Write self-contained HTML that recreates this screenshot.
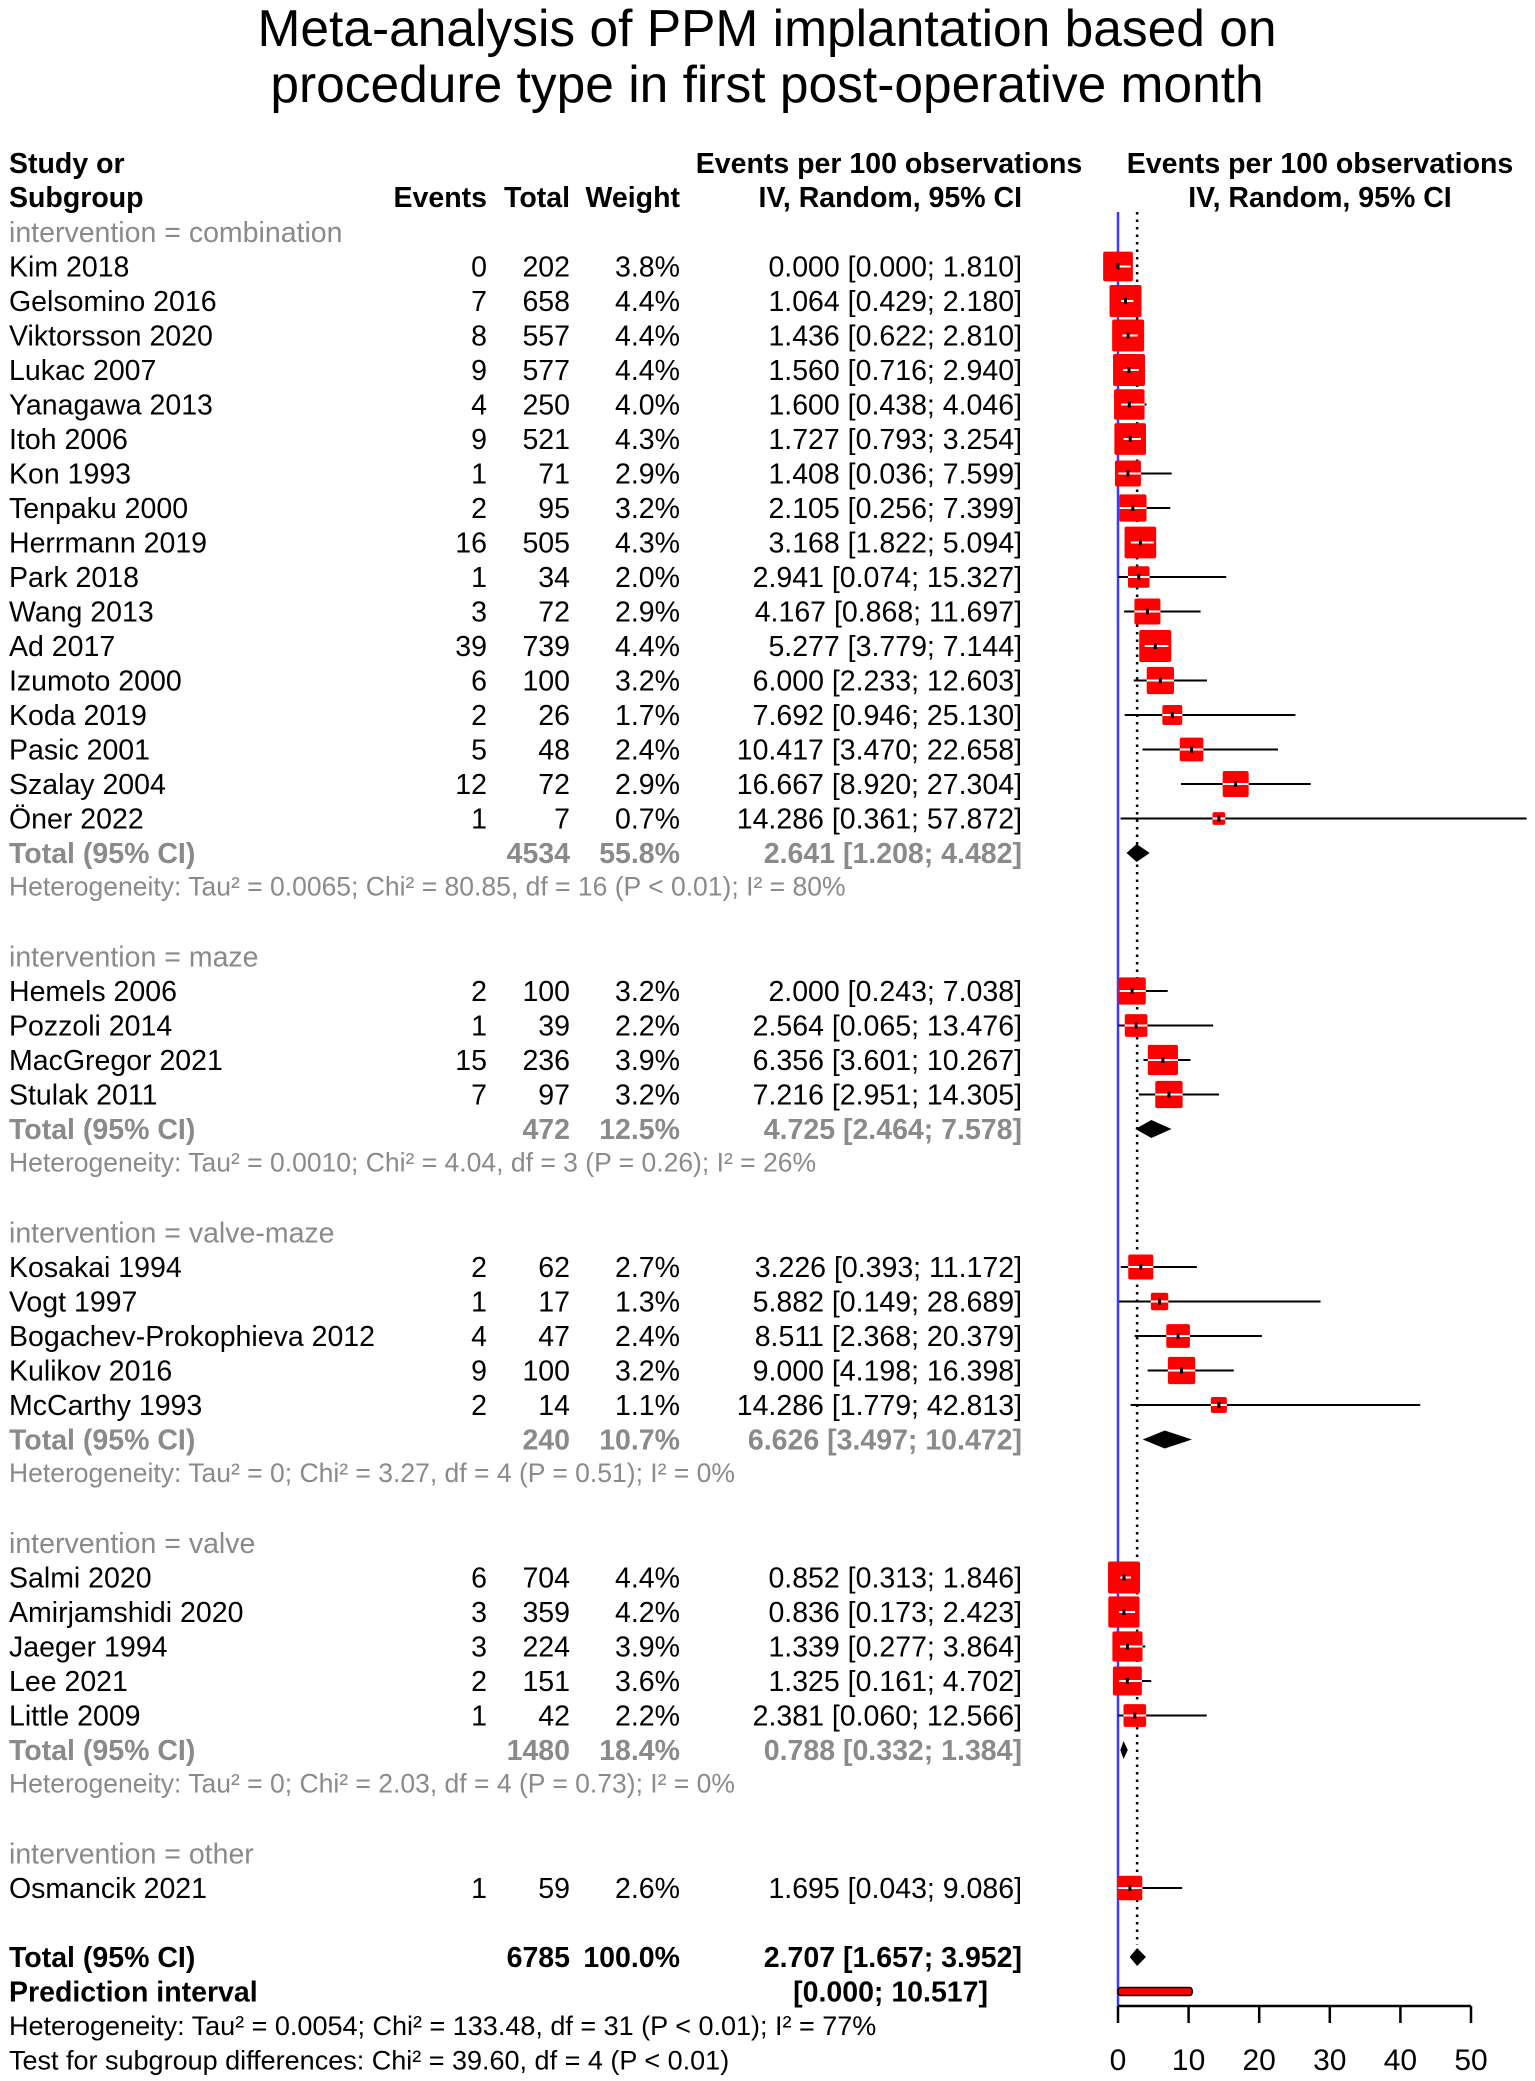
<!DOCTYPE html>
<html><head><meta charset="utf-8"><style>
html,body{margin:0;padding:0;background:#fff;}
svg{display:block;font-family:"Liberation Sans",Arial,sans-serif;}
</style></head><body>
<svg id="chart" width="1535" height="2081" viewBox="0 0 1535 2081" xmlns="http://www.w3.org/2000/svg">
<text x="767" y="46" font-size="51.5" text-anchor="middle">Meta-analysis of PPM implantation based on</text>
<text x="767" y="102" font-size="51.5" text-anchor="middle">procedure type in first post-operative month</text>
<g font-size="28.5" font-weight="bold">
<text x="9" y="173">Study or</text>
<text x="9" y="207">Subgroup</text>
<text x="487" y="207" text-anchor="end">Events</text>
<text x="570" y="207" text-anchor="end">Total</text>
<text x="680" y="207" text-anchor="end">Weight</text>
<text x="889" y="173" text-anchor="middle">Events per 100 observations</text>
<text x="1022" y="207" text-anchor="end">IV, Random, 95% CI</text>
<text x="1320" y="173" text-anchor="middle">Events per 100 observations</text>
<text x="1320" y="207" text-anchor="middle">IV, Random, 95% CI</text>
</g>
<g id="rows"></g>
<g id="plot"></g>
</svg>
<script>
const studyNames=["Kim 2018","Gelsomino 2016","Viktorsson 2020","Lukac 2007","Yanagawa 2013","Itoh 2006","Kon 1993","Tenpaku 2000","Herrmann 2019","Park 2018","Wang 2013","Ad 2017","Izumoto 2000","Koda 2019","Pasic 2001","Szalay 2004","Öner 2022","Hemels 2006","Pozzoli 2014","MacGregor 2021","Stulak 2011","Kosakai 1994","Vogt 1997","Bogachev-Prokophieva 2012","Kulikov 2016","McCarthy 1993","Salmi 2020","Amirjamshidi 2020","Jaeger 1994","Lee 2021","Little 2009","Osmancik 2021"];
const studyGroup=[0,0,0,0,0,0,0,0,0,0,0,0,0,0,0,0,0,1,1,1,1,2,2,2,2,2,3,3,3,3,3,4];
const events=[0,7,8,9,4,9,1,2,16,1,3,39,6,2,5,12,1,2,1,15,7,2,1,4,9,2,6,3,3,2,1,1];
const totals=[202,658,557,577,250,521,71,95,505,34,72,739,100,26,48,72,7,100,39,236,97,62,17,47,100,14,704,359,224,151,42,59];
const weights=[3.8,4.4,4.4,4.4,4.0,4.3,2.9,3.2,4.3,2.0,2.9,4.4,3.2,1.7,2.4,2.9,0.7,3.2,2.2,3.9,3.2,2.7,1.3,2.4,3.2,1.1,4.4,4.2,3.9,3.6,2.2,2.6];
const estimates=[0.000,1.064,1.436,1.560,1.600,1.727,1.408,2.105,3.168,2.941,4.167,5.277,6.000,7.692,10.417,16.667,14.286,2.000,2.564,6.356,7.216,3.226,5.882,8.511,9.000,14.286,0.852,0.836,1.339,1.325,2.381,1.695];
const lowers=[0.000,0.429,0.622,0.716,0.438,0.793,0.036,0.256,1.822,0.074,0.868,3.779,2.233,0.946,3.470,8.920,0.361,0.243,0.065,3.601,2.951,0.393,0.149,2.368,4.198,1.779,0.313,0.173,0.277,0.161,0.060,0.043];
const uppers=[1.810,2.180,2.810,2.940,4.046,3.254,7.599,7.399,5.094,15.327,11.697,7.144,12.603,25.130,22.658,27.304,57.872,7.038,13.476,10.267,14.305,11.172,28.689,20.379,16.398,42.813,1.846,2.423,3.864,4.702,12.566,9.086];
const groupNames=["combination","maze","valve-maze","valve","other"];
const groupTotals=[4534,472,240,1480,null];
const groupWeights=["55.8%","12.5%","10.7%","18.4%",null];
const groupEst=[2.641,4.725,6.626,0.788,null];
const groupLow=[1.208,2.464,3.497,0.332,null];
const groupUp=[4.482,7.578,10.472,1.384,null];
const groupHet=["Heterogeneity: Tau² = 0.0065; Chi² = 80.85, df = 16 (P < 0.01); I² = 80%","Heterogeneity: Tau² = 0.0010; Chi² = 4.04, df = 3 (P = 0.26); I² = 26%","Heterogeneity: Tau² = 0; Chi² = 3.27, df = 4 (P = 0.51); I² = 0%","Heterogeneity: Tau² = 0; Chi² = 2.03, df = 4 (P = 0.73); I² = 0%",null];
const overall={total:6785,weight:"100.0%",est:2.707,low:1.657,up:3.952,piLow:0.000,piUp:10.517};
const xTicks=[0,10,20,30,40,50];

const NS="http://www.w3.org/2000/svg";
const X0=1118,PX=7.06,FS=28.5;
function xs(v){return X0+v*PX;}
function ys(k){return 232+34.5*k;}
const rowsG=document.getElementById('rows'),plotG=document.getElementById('plot');
function mk(tag,attrs,parent){const e=document.createElementNS(NS,tag);for(const a in attrs)e.setAttribute(a,attrs[a]);parent.appendChild(e);return e;}
function txt(x,y,s,anchor,opts,parent){const e=mk('text',Object.assign({x:x,y:y,'text-anchor':anchor||'start','font-size':FS},opts||{}),parent||rowsG);e.textContent=s;return e;}
const GRAY="#8a8a8a";

const blue=mk('line',{x1:xs(0),x2:xs(0),y1:212,y2:2006,stroke:'#3b3bff','stroke-width':2.5},plotG);


const dot=mk('line',{x1:xs(overall.est),x2:xs(overall.est),y1:212,y2:1945,stroke:'#000','stroke-width':2.5,'stroke-dasharray':'2.5,5'},plotG);



function diamond(k,est,lo,up,name){
  const y=ys(k),h=9;
  const d=mk('polygon',{points:`${xs(lo)},${y} ${xs(est)},${y-h} ${xs(up)},${y} ${xs(est)},${y+h}`,fill:'#000'},plotG);
  
  
}
function f3(v){return v.toFixed(3);}
function ciText(e,l,u){return f3(e)+' ['+f3(l)+'; '+(u<10?'  ':'')+f3(u)+']';}

let k=0;
let gi=-1;
for(let i=0;i<studyNames.length;i++){
  if(studyGroup[i]!==gi){
    if(gi>=0){ k=closeGroup(gi,k); }
    gi=studyGroup[i];
    const h=txt(9,ys(k)+10,'intervention = '+groupNames[gi],'start',{fill:GRAY});
    
    
    k++;
  }
  const y=ys(k)+10;
  const n=txt(9,y,studyNames[i]);
  
  
  txt(487,y,String(events[i]),'end');
  txt(570,y,String(totals[i]),'end');
  txt(680,y,weights[i].toFixed(1)+'%','end');
  txt(1022,y,ciText(estimates[i],lowers[i],uppers[i]),'end',{'xml:space':'preserve'});
  const yc=ys(k),s=32*Math.sqrt(weights[i]/4.4);
  const ci=mk('line',{x1:xs(lowers[i]),x2:xs(uppers[i]),y1:yc,y2:yc,stroke:'#000','stroke-width':2},plotG);
  
  
  const sq=mk('rect',{x:xs(estimates[i])-s/2,y:yc-s/2,width:s,height:s,fill:'#f00',rx:2},plotG);
  
  
  const a=Math.max(xs(lowers[i]),xs(estimates[i])-s/2),b=Math.min(xs(uppers[i]),xs(estimates[i])+s/2);
  if(b>a) mk('line',{x1:a,x2:b,y1:yc,y2:yc,stroke:'#fff','stroke-width':2},plotG);
  mk('rect',{x:xs(estimates[i])-1.5,y:yc-3,width:3,height:6,fill:'#000'},plotG);
  k++;
}
k=closeGroup(gi,k);

function closeGroup(g,k){
  if(groupTotals[g]===null){return k+1;}
  const y=ys(k)+10;
  const t=txt(9,y,'Total (95% CI)','start',{fill:GRAY,'font-weight':'bold'});
  
  
  txt(570,y,String(groupTotals[g]),'end',{fill:GRAY,'font-weight':'bold'});
  txt(680,y,groupWeights[g],'end',{fill:GRAY,'font-weight':'bold'});
  txt(1022,y,ciText(groupEst[g],groupLow[g],groupUp[g]),'end',{fill:GRAY,'font-weight':'bold','xml:space':'preserve'});
  diamond(k,groupEst[g],groupLow[g],groupUp[g],'subgroup-diamond');
  k++;
  const h=txt(9,ys(k)+8,groupHet[g],'start',{fill:GRAY,'font-size':26.5});
  
  
  return k+2;
}

k=50;
let y=ys(k)+10;
const tt=txt(9,y,'Total (95% CI)','start',{'font-weight':'bold'});


txt(570,y,String(overall.total),'end',{'font-weight':'bold'});
txt(680,y,overall.weight,'end',{'font-weight':'bold'});
txt(1022,y,ciText(overall.est,overall.low,overall.up),'end',{'font-weight':'bold','xml:space':'preserve'});
diamond(k,overall.est,overall.low,overall.up,'overall-diamond');
y=ys(51)+10;
const pl=txt(9,y,'Prediction interval','start',{'font-weight':'bold'});


txt(988,y,'['+f3(overall.piLow)+'; '+f3(overall.piUp)+']','end',{'font-weight':'bold'});
const pi=mk('rect',{x:xs(overall.piLow),y:ys(51)-4,width:xs(overall.piUp)-xs(overall.piLow),height:8,fill:'#f00',stroke:'#000','stroke-width':1.5,rx:3},plotG);


const h1=txt(9,ys(52)+9,'Heterogeneity: Tau² = 0.0054; Chi² = 133.48, df = 31 (P < 0.01); I² = 77%','start',{'font-size':27});


const h2=txt(9,ys(53)+9,'Test for subgroup differences: Chi² = 39.60, df = 4 (P < 0.01)','start',{'font-size':27});



const ax=mk('line',{x1:xs(0),x2:xs(50),y1:2006,y2:2006,stroke:'#000','stroke-width':2.5},plotG);


xTicks.forEach(t=>{
  const tk=mk('line',{x1:xs(t),x2:xs(t),y1:2006,y2:2023,stroke:'#000','stroke-width':2.5},plotG);
  
  
  const l=txt(xs(t),2070,String(t),'middle',{'font-size':30},plotG);
  
  
});
</script>
</body></html>
